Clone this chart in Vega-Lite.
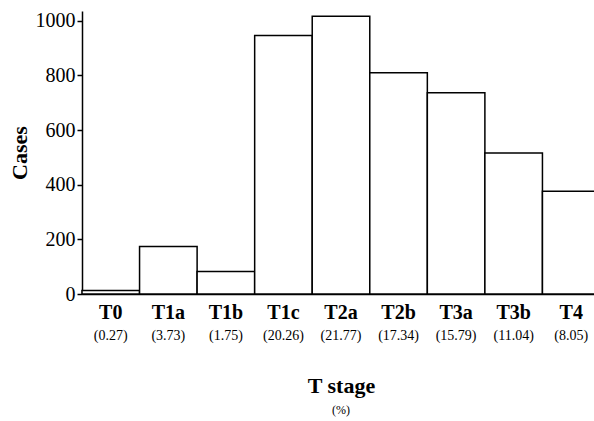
{
  "$schema": "https://vega.github.io/schema/vega-lite/v6.json",
  "background": "white",
  "padding": {"top": 10, "left": 8, "right": 0, "bottom": 4},
  "width": 518,
  "height": 283,
  "config": {
    "font": "Liberation Serif",
    "view": {"stroke": null},
    "axis": {"grid": false, "labelColor": "black", "titleColor": "black", "domainColor": "black", "tickColor": "black"}
  },
  "title": {"text": "(%)", "orient": "bottom", "fontSize": 12, "fontWeight": "normal", "font": "Liberation Serif", "color": "black", "offset": 9},
  "data": {
    "values": [
      {"stage": "T0", "pct": "(0.27)", "cases": 13},
      {"stage": "T1a", "pct": "(3.73)", "cases": 174},
      {"stage": "T1b", "pct": "(1.75)", "cases": 82},
      {"stage": "T1c", "pct": "(20.26)", "cases": 946},
      {"stage": "T2a", "pct": "(21.77)", "cases": 1017},
      {"stage": "T2b", "pct": "(17.34)", "cases": 810},
      {"stage": "T3a", "pct": "(15.79)", "cases": 737},
      {"stage": "T3b", "pct": "(11.04)", "cases": 516},
      {"stage": "T4", "pct": "(8.05)", "cases": 376}
    ]
  },
  "layer": [
    {
      "mark": {"type": "bar", "fill": "white", "stroke": "black", "strokeWidth": 1.5},
      "encoding": {
        "x": {
          "field": "stage", "type": "nominal", "sort": null,
          "scale": {"paddingInner": 0, "paddingOuter": 0},
          "axis": {"orient": "bottom", "title": null, "labelFontWeight": "bold", "labelFontSize": 20, "labelAngle": 0, "ticks": false, "labelPadding": 8, "domainWidth": 1.5}
        },
        "y": {
          "field": "cases", "type": "quantitative",
          "scale": {"domain": [0, 1036], "nice": false},
          "axis": {"values": [0, 200, 400, 600, 800, 1000], "format": "d", "title": "Cases", "titleFontSize": 22, "titleFontWeight": "bold", "titlePadding": 4, "labelFontSize": 20, "labelPadding": 2, "tickSize": 5, "tickWidth": 1.5, "domainWidth": 1.5}
        }
      }
    },
    {
      "mark": {"type": "bar", "opacity": 0},
      "encoding": {
        "x": {
          "field": "pct", "type": "nominal", "sort": null,
          "scale": {"paddingInner": 0, "paddingOuter": 0},
          "axis": {"orient": "bottom", "offset": 30, "title": "T stage", "titleFontSize": 22, "titleFontWeight": "bold", "titlePadding": 33, "labelFontSize": 14, "labelAngle": 0, "ticks": false, "domain": false, "labelPadding": 4}
        },
        "y": {"field": "cases", "type": "quantitative"}
      }
    }
  ],
  "resolve": {"scale": {"x": "independent"}, "axis": {"x": "independent"}}
}
